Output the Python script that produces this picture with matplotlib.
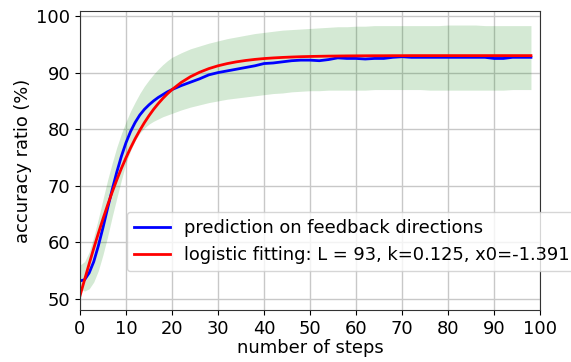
import matplotlib
matplotlib.use("Agg")
import matplotlib.pyplot as plt

steps = [0, 1, 2, 3, 4, 5, 6, 7, 8, 9, 10, 11, 12, 13, 14, 15, 16, 17, 18, 19, 20,
         22, 24, 26, 28, 30, 32, 34, 36, 38, 40, 42, 44, 46, 48, 50, 52, 54, 56, 58,
         60, 62, 64, 66, 68, 70, 72, 74, 76, 78, 80, 82, 84, 86, 88, 90, 92, 94, 96, 98]

prediction = [53.2, 53.4, 54.6, 56.6, 59.4, 62.6, 66.0, 69.3, 72.4, 75.2, 77.6, 79.6, 81.2,
              82.5, 83.5, 84.3, 85.0, 85.6, 86.1, 86.6, 87.0,
              87.7, 88.3, 88.9, 89.6, 90.0, 90.3, 90.6, 90.9, 91.2, 91.6, 91.7, 91.9, 92.1,
              92.2, 92.2, 92.1, 92.3, 92.6, 92.5, 92.5, 92.4, 92.5, 92.5, 92.7, 92.8, 92.7,
              92.7, 92.7, 92.7, 92.7, 92.7, 92.7, 92.7, 92.7, 92.5, 92.5, 92.7, 92.7, 92.7]

logistic = [50.53, 53.40, 56.21, 58.95, 61.60, 64.15, 66.57, 68.87, 71.04, 73.07, 74.95,
            76.70, 78.32, 79.79, 81.15, 82.38, 83.51, 84.51, 85.43, 86.25, 86.99,
            88.26, 89.27, 90.06, 90.70, 91.20, 91.59, 91.90, 92.14, 92.33, 92.48, 92.59,
            92.68, 92.75, 92.81, 92.85, 92.88, 92.91, 92.93, 92.95, 92.96, 92.97, 92.98,
            92.98, 92.99, 92.99, 93.0, 93.0, 93.0, 93.0, 93.0, 93.0, 93.0, 93.0, 93.0,
            93.0, 93.0, 93.0, 93.0, 93.0]

band_low = [51.8, 51.4, 51.8, 53.0, 55.0, 57.8, 61.0, 64.5, 67.8, 71.0, 74.0, 76.2, 78.0,
            79.3, 80.2, 80.9, 81.4, 81.8, 82.2, 82.5, 82.8,
            83.4, 83.9, 84.3, 84.7, 85.0, 85.3, 85.5, 85.7, 85.9, 86.1, 86.3, 86.4, 86.6,
            86.7, 86.8, 86.8, 86.9, 86.9, 86.9, 86.9, 86.9, 87.0, 87.0, 87.0, 87.0, 87.0,
            87.0, 86.9, 86.9, 86.9, 86.9, 86.9, 86.9, 86.9, 86.9, 86.9, 87.0, 87.0, 87.0]

band_high = [56.0, 56.6, 58.3, 61.0, 64.2, 67.6, 71.0, 74.0, 76.8, 79.2, 81.3, 83.2, 84.8,
             86.3, 87.6, 88.7, 89.7, 90.6, 91.4, 92.1, 92.7,
             93.5, 94.2, 94.7, 95.2, 95.6, 96.0, 96.3, 96.6, 96.9, 97.1, 97.3, 97.5, 97.6,
             97.7, 97.8, 97.9, 98.0, 98.1, 98.1, 98.2, 98.2, 98.3, 98.3, 98.3, 98.3, 98.3,
             98.3, 98.3, 98.3, 98.4, 98.4, 98.4, 98.4, 98.3, 98.3, 98.3, 98.3, 98.3, 98.3]

x_ticks = [0, 10, 20, 30, 40, 50, 60, 70, 80, 90, 100]
y_ticks = [50, 60, 70, 80, 90, 100]

label_pred = "prediction on feedback directions"
label_fit = "logistic fitting: L = 93, k=0.125, x0=-1.391"

FS = 12.9
plt.rcParams['font.family'] = ['DejaVu Sans']
fig = plt.figure(figsize=(5.71, 3.62), dpi=100)
ax = fig.add_axes([0.140, 0.1436, 0.806, 0.826])

ax.fill_between(steps, band_low, band_high, color='g', alpha=0.17, linewidth=0)
ax.plot(steps, prediction, color='blue', lw=2, label=label_pred)
ax.plot(steps, logistic, color='red', lw=2, label=label_fit)

ax.set_xlim(0, 100)
ax.set_ylim(48.06, 100.88)
ax.set_xticks(x_ticks)
ax.set_yticks(y_ticks)
ax.tick_params(labelsize=FS)
ax.grid(True, color='#c8c8c8', linewidth=1)
ax.set_axisbelow(True)
for s in ax.spines.values():
    s.set_color('#333333')
ax.set_xlabel("number of steps", fontsize=FS, labelpad=1)
ax.set_ylabel("accuracy ratio (%)", fontsize=FS, labelpad=3)

leg = ax.legend(loc='lower left', bbox_to_anchor=(0.102, 0.13), borderaxespad=0,
                fontsize=FS, framealpha=0.8, handlelength=2.0)

fig.savefig("out.png", dpi=100)
